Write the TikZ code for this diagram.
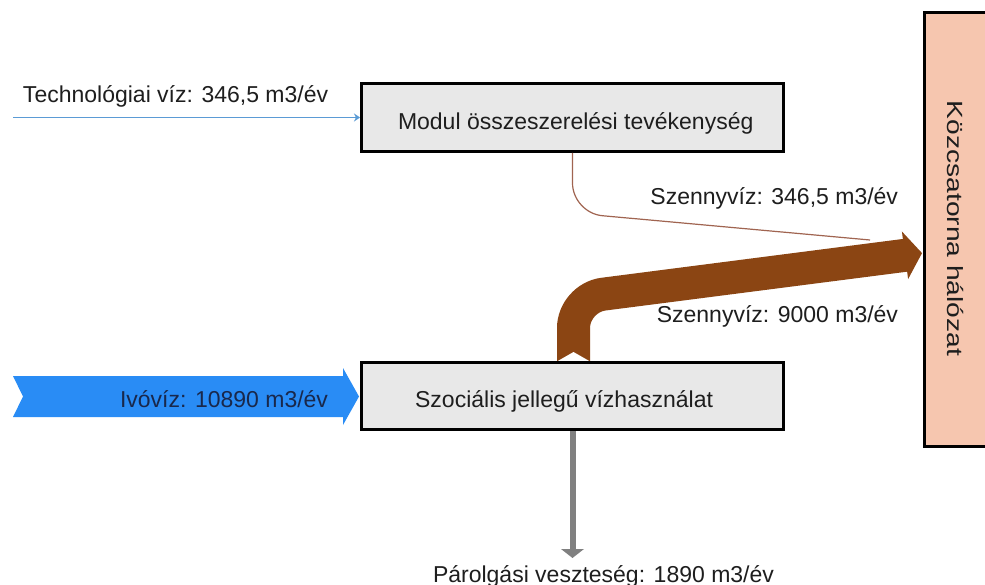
\documentclass[tikz,border=0pt]{standalone}
\usepackage{fontspec}
\setmainfont{Liberation Sans}
\usetikzlibrary{arrows.meta,calc}
\definecolor{boxgray}{RGB}{232,232,232}
\definecolor{peach}{RGB}{246,198,175}
\definecolor{drinkblue}{RGB}{41,140,245}
\definecolor{techblue}{RGB}{91,155,213}
\definecolor{sewage}{RGB}{139,69,19}
\definecolor{thinbrown}{RGB}{160,100,80}
\definecolor{lossgray}{RGB}{128,128,128}
\definecolor{txtdark}{RGB}{30,30,30}
\definecolor{txtnavy}{RGB}{25,40,75}
\begin{document}
\begin{tikzpicture}[x=1pt,y=-1pt,
  lbl/.style={font=\fontsize{23}{27}\selectfont, text=txtdark, inner sep=0pt, outer sep=0pt},
  procbox/.style={draw=black, line width=3pt, fill=boxgray, minimum width=422pt, minimum height=68pt, inner sep=0pt}]
\useasboundingbox (0,0) rectangle (985,585);
\fill[white] (0,0) rectangle (985,585);

% big blue input chevron
\fill[drinkblue] (13,376) -- (343,376) -- (343,368) -- (359,396.5) -- (343,425) -- (343,417) -- (13,417) -- (23,396.5) -- cycle;

% thick brown sewage arrow
\coordinate (bend) at (573.5,298);
\coordinate (hb) at (906,255.2);
\draw[line width=33pt, draw=sewage, rounded corners=30pt] (573.5,362) -- (bend) -- (hb);
\fill[sewage] (901.9,231.5) -- (922,253.1) -- (908.1,279.1) -- cycle;
\fill[white] (556,362) -- (573.5,352) -- (591,362) -- cycle;

% boxes
\node[procbox] (modul) at (572.5,117.5) {};
\node[procbox, minimum height=67pt] (szoc) at (572.5,396) {};
\node[draw=black, line width=3pt, fill=peach, minimum width=70.5pt, minimum height=434pt, inner sep=0pt, anchor=north west] (kozcs) at (923,11) {};

% thin brown sewage line
\coordinate (thinend) at (870,240);
\draw[line width=1.2pt, draw=thinbrown, rounded corners=30pt] (modul.south) -- (572.5,213) -- (thinend);

% thin blue input
\coordinate (techstart) at (13,117.5);
\draw[line width=1.5pt, draw=techblue, -{Stealth[length=6pt,width=8pt]}] (techstart) -- (modul.west);

% gray loss arrow
\coordinate (lossend) at (572.5,551);
\draw[line width=6pt, draw=lossgray] (szoc.south) -- (lossend);
\fill[lossgray] (561,549) -- (584,549) -- (572.5,558) -- cycle;

% texts
\node[lbl, anchor=base west] (t1) at (23,103) {Technológiai víz: 346,5 m3/év};
\node[lbl, anchor=base west] (t2) at (398,130) {Modul összeszerelési tevékenység};
\node[lbl, anchor=base east] (t3) at (713,407) {Szociális jellegű vízhasználat};
\node[lbl, anchor=base east, text=txtnavy] (t4) at (328,407) {Ivóvíz: 10890 m3/év};
\node[lbl, anchor=base east] (t5) at (898,205) {Szennyvíz: 346,5 m3/év};
\node[lbl, anchor=base east] (t6) at (898,322) {Szennyvíz: 9000 m3/év};
\node[lbl, anchor=base west] (t7) at (433,582) {Párolgási veszteség: 1890 m3/év};
\node[lbl, font=\fontsize{22}{26}\selectfont, anchor=base west, rotate=-90] (t8) at (947,101) {\scalebox{1.28}[1]{Közcsatorna hálózat}};
\end{tikzpicture}
\end{document}
